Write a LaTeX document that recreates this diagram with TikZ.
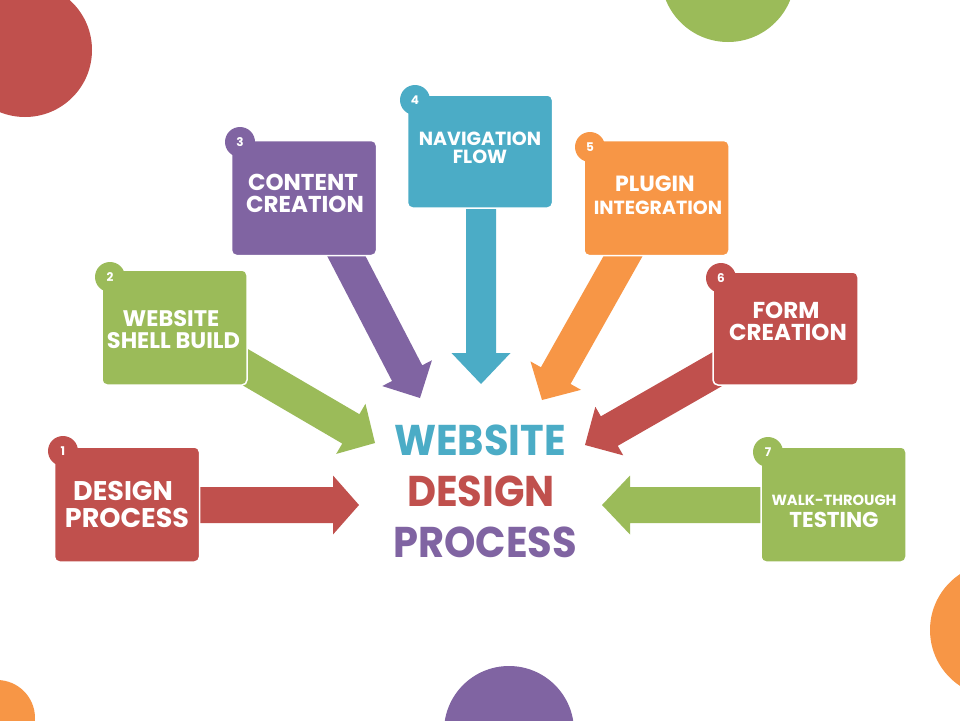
\documentclass[tikz,border=0pt]{standalone}
\usepackage{fontspec}
\setmainfont{Poppins}
\usetikzlibrary{calc}
\definecolor{cred}{HTML}{C0504D}
\definecolor{cgreen}{HTML}{9BBB59}
\definecolor{cpurple}{HTML}{8064A2}
\definecolor{cteal}{HTML}{4BACC6}
\definecolor{corange}{HTML}{F79646}
% color, start, tip, shaft half width, head half width, head length
\newcommand\blockarrow[6]{%
  \coordinate (bap) at ($(#3)!#6!(#2)$);
  \fill[#1] ($(#2)!#4!90:(#3)$) -- ($(bap)!#4!90:(#3)$) -- ($(bap)!#5!90:(#3)$) -- (#3)
    -- ($(bap)!#5!-90:(#3)$) -- ($(bap)!#4!-90:(#3)$) -- ($(#2)!#4!-90:(#3)$) -- cycle;}
\tikzset{
  stepbox/.style={rectangle, rounded corners=5pt, draw=white, line width=1.5pt,
    minimum width=145pt, minimum height=115pt, inner sep=0pt},
  numcirc/.style={circle, minimum size=30pt, inner sep=0pt},
  numtxt/.style={text=white, font=\bfseries\fontsize{12}{12}\selectfont},
  lbl/.style={text=white, anchor=base, inner sep=0pt},
  big/.style={anchor=base, inner sep=0pt, font=\bfseries\fontsize{43}{43}\selectfont},
}
\newcommand\fsz[1]{\bfseries\fontsize{#1}{#1}\selectfont}
\newcommand\narrow[1]{\scalebox{0.93}[1]{#1}}
\begin{document}
\begin{tikzpicture}[x=1pt,y=-1pt]
\useasboundingbox (0,0) rectangle (960,720);
\fill[white] (0,0) rectangle (960,720);
\begin{scope}
\clip (0,0) rectangle (960,720);
\fill[cred] (25,50) circle (67);
\fill[cgreen] (728,-25) circle (67);
\fill[corange] (997,630) circle (67);
\fill[cpurple] (509,731) circle (65);
\fill[corange] (-3,718) circle (38);
\end{scope}

% arrow end points
\coordinate (s1) at (180,505); \coordinate (t1) at (359,505);
\coordinate (s2) at (233,360); \coordinate (t2) at (375,443);
\coordinate (s3) at (338,240); \coordinate (t3) at (420,398);
\coordinate (s4) at (481,195); \coordinate (t4) at (481,384);
\coordinate (s5) at (631,242); \coordinate (t5) at (542,400);
\coordinate (s6) at (735,359); \coordinate (t6) at (585,445);
\coordinate (s7) at (780,505); \coordinate (t7) at (602,505);

\blockarrow{cred}{s1}{t1}{18pt}{29.5pt}{26pt}
\blockarrow{cgreen}{s2}{t2}{17pt}{29pt}{28pt}
\blockarrow{cpurple}{s3}{t3}{17pt}{28pt}{28pt}
\blockarrow{cteal}{s4}{t4}{15pt}{29.5pt}{31pt}
\blockarrow{corange}{s5}{t5}{17pt}{29pt}{28pt}
\blockarrow{cred}{s6}{t6}{17pt}{28pt}{28pt}
\blockarrow{cgreen}{s7}{t7}{18pt}{29.5pt}{28pt}

% boxes with number circles
\foreach \n/\col/\bx/\by/\h/\cx/\cy in {
  1/cred/127/504.5/115/63/451,
  2/cgreen/174.5/327.5/115/110/277,
  3/cpurple/304/198/115/240/142,
  4/cteal/480/151.5/113/415/100,
  5/corange/656.5/198/115/590/147,
  6/cred/785.5/328.5/113/721/278,
  7/cgreen/833.5/504.5/115/768/452}{
  \node[numcirc, fill=\col, draw=white, line width=1.5pt] at (\cx,\cy) {};
  \node[stepbox, fill=\col, minimum height=\h pt] (b\n) at (\bx,\by) {};
  \node[numcirc, fill=\col] (c\n) at (\cx,\cy) {};
  \node[numtxt] (n\n) at (\cx,\cy) {\n};
}

% box labels
\node[lbl, font=\fsz{27}] (l1a) at (123,500) {DESIGN};
\node[lbl, font=\fsz{27}] (l1b) at (127,527) {PROCESS};
\node[lbl, font=\fsz{22.5}] (l2a) at (171,326) {WEBSITE};
\node[lbl, font=\fsz{22.5}] (l2b) at (173.5,348) {SHELL BUILD};
\node[lbl, font=\fsz{23}] (l3a) at (303,190) {CONTENT};
\node[lbl, font=\fsz{23}] (l3b) at (305,212) {CREATION};
\node[lbl, font=\fsz{19}] (l4a) at (480,145) {NAVIGATION};
\node[lbl, font=\fsz{19}] (l4b) at (480,163) {FLOW};
\node[lbl, font=\fsz{22}] (l5a) at (655,191) {PLUGIN};
\node[lbl, font=\fsz{19}] (l5b) at (658,214) {INTEGRATION};
\node[lbl, font=\fsz{23}] (l6a) at (786,318) {FORM};
\node[lbl, font=\fsz{23}] (l6b) at (788,340) {CREATION};
\node[lbl, font=\fsz{14.7}] (l7a) at (834,505) {WALK-THROUGH};
\node[lbl, font=\fsz{21.5}] (l7b) at (834,527) {TESTING};

% centre title
\node[big, text=cteal] (ta) at (480,455) {\narrow{WEBSITE}};
\node[big, text=cred] (tb) at (481,506) {\narrow{DESIGN}};
\node[big, text=cpurple] (tc) at (485,557) {\narrow{PROCESS}};
\end{tikzpicture}
\end{document}
